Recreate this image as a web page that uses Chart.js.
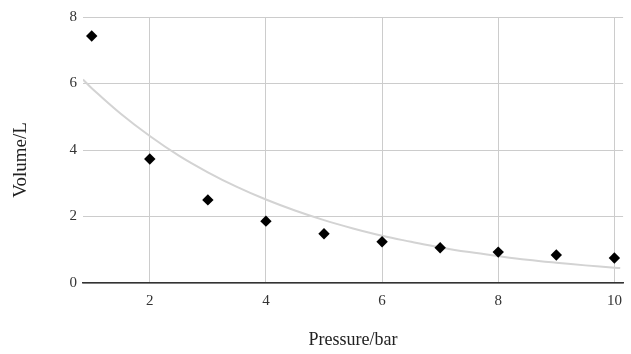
<!DOCTYPE html>
<html><head><meta charset="utf-8">
<script src="https://cdn.jsdelivr.net/npm/chart.js@4/dist/chart.umd.min.js"></script>
<style>html,body{margin:0;padding:0;background:#fff}#wrap{width:631px;height:354px}</style>
</head><body><div id="wrap"><canvas id="c" width="631" height="354"></canvas></div>
<script>
const pressure = [1,2,3,4,5,6,7,8,9,10];
const volume = [7.43,3.73,2.50,1.86,1.48,1.24,1.06,0.93,0.84,0.75];
const trendX = [0.85,1,1.5,2,2.5,3,3.5,4,4.5,5,5.5,6,6.5,7,7.5,8,8.5,9,9.5,10,10.1];
const trendY = [6.12,5.86,5.09,4.42,3.83,3.33,2.89,2.51,2.18,1.89,1.64,1.42,1.24,1.07,0.93,0.81,0.70,0.61,0.53,0.46,0.45];
const xTicks = [2,4,6,8,10];
const yTicks = [0,2,4,6,8];
const xTitle = 'Pressure/bar';
const yTitle = 'Volume/L';

const FONT = "'Liberation Serif', 'Times New Roman', serif";

const yTitlePlugin = {
  id: 'yTitle',
  afterDraw(chart) {
    const ctx = chart.ctx;
    ctx.save();
    ctx.translate(21, 160);
    ctx.rotate(-Math.PI / 2);
    ctx.font = "19px " + FONT;
    ctx.fillStyle = '#222';
    ctx.textAlign = 'center';
    ctx.textBaseline = 'middle';
    ctx.fillText(yTitle, 0, 0);
    ctx.restore();
  }
};

new Chart(document.getElementById('c'), {
  type: 'scatter',
  data: {
    datasets: [
      {
        label: 'Trend',
        data: trendX.map((x,i)=>({x, y: trendY[i]})),
        showLine: true, borderColor: '#d3d3d3', borderWidth: 2,
        pointRadius: 0, tension: 0.4, fill: false, order: 2
      },
      {
        label: 'Volume',
        data: pressure.map((x,i)=>({x, y: volume[i]})),
        pointStyle: 'rectRot', pointRadius: 5.7, pointHoverRadius: 5.7,
        backgroundColor: '#000', borderColor: '#000', borderWidth: 0, order: 1
      }
    ]
  },
  options: {
    responsive: false, animation: false,
    layout: { padding: { top: 17, right: 7, left: 0, bottom: 0 } },
    plugins: { legend: { display: false }, tooltip: { enabled: false } },
    scales: {
      x: {
        type: 'linear', min: 0.85, max: 10.15,
        afterBuildTicks: s => { s.ticks = xTicks.map(v => ({ value: v })); },
        afterFit: s => { s.height = 71; },
        grid: { color: '#cccccc', drawTicks: false },
        border: { display: true, color: '#333333', width: 1.5 },
        ticks: { color: '#333', padding: 9, font: { family: FONT, size: 15 }, maxRotation: 0 },
        title: { display: true, text: xTitle, color: '#222', font: { family: FONT, size: 18 }, padding: { top: 3, bottom: 3 } }
      },
      y: {
        type: 'linear', min: 0, max: 8,
        afterBuildTicks: s => { s.ticks = yTicks.map(v => ({ value: v })); },
        afterFit: s => { s.width = 83; },
        grid: { color: '#cccccc', drawTicks: false },
        border: { display: false },
        ticks: { color: '#333', padding: 6, font: { family: FONT, size: 15 } },
        title: { display: false }
      }
    }
  },
  plugins: [yTitlePlugin]
});
</script></body></html>
